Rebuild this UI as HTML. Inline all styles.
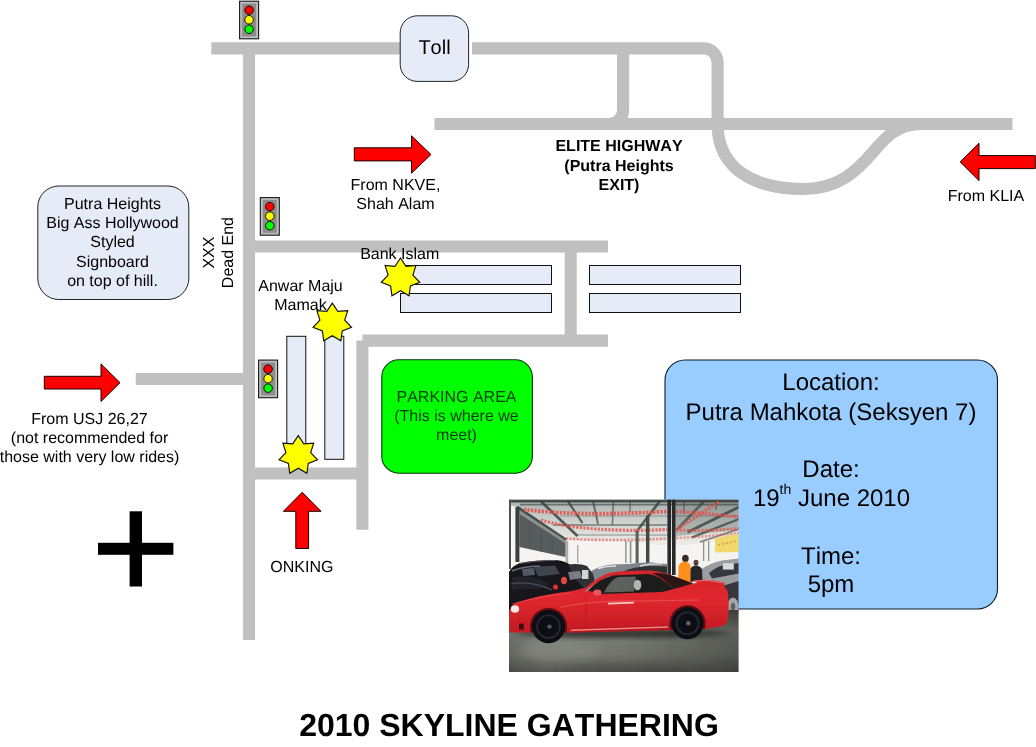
<!DOCTYPE html>
<html lang="en">
<head>
<meta charset="utf-8">
<title>2010 Skyline Gathering</title>
<style>
html,body{margin:0;padding:0;background:#fff;}
body{width:1036px;height:747px;overflow:hidden;}
svg{display:block;font-family:"Liberation Sans",Arial,Helvetica,sans-serif;text-rendering:geometricPrecision;font-kerning:none;}
text{opacity:0.999;}
</style>
</head>
<body>
<svg width="1036" height="747" viewBox="0 0 1036 747">
<rect width="1036" height="747" fill="#fff"/>
<g fill="none" stroke="#c0c0c0" stroke-width="12.1" stroke-linejoin="miter">
<path d="M211.3,48.4 H400"/>
<path d="M472,48.4 H703.6 A14,14 0 0 1 717.6,62.4 V124 C717.6,169.5 755,189 803,189 C838,189.5 857,171 874,151 C884.2,139 896,124 922,124"/>
<path d="M434.5,124 H1012.5"/>
<path d="M600,124 H609.1 A14,14 0 0 0 623.1,110 V48.4"/>
<path d="M249,54 V640"/>
<path d="M255,246.5 H608" stroke-width="11.8"/>
<path d="M570.7,246.4 V340.6"/>
<path d="M608,340.6 H362.4"/>
<path d="M362.4,340.6 V529.7"/>
<path d="M135.8,379 H249"/>
<path d="M249,473.5 H362"/>
</g>
<g>
<rect x="239.6" y="1.2" width="19.0" height="37.6" fill="#bcbcbc" stroke="#1a1a1a" stroke-width="1.1"/>
<rect x="242.1" y="3.5999999999999996" width="14.0" height="32.800000000000004" fill="#8c8c8c"/>
<circle cx="249.1" cy="10.20" r="4.25" fill="#ff0000" stroke="#1a0a00" stroke-width="1"/>
<circle cx="249.1" cy="19.75" r="4.25" fill="#ffff00" stroke="#1a1a00" stroke-width="1"/>
<circle cx="249.1" cy="29.30" r="4.25" fill="#00ff00" stroke="#001a00" stroke-width="1"/>
</g>
<g>
<rect x="260.3" y="197.6" width="19.0" height="37.6" fill="#bcbcbc" stroke="#1a1a1a" stroke-width="1.1"/>
<rect x="262.8" y="200.0" width="14.0" height="32.800000000000004" fill="#8c8c8c"/>
<circle cx="269.8" cy="206.60" r="4.25" fill="#ff0000" stroke="#1a0a00" stroke-width="1"/>
<circle cx="269.8" cy="216.15" r="4.25" fill="#ffff00" stroke="#1a1a00" stroke-width="1"/>
<circle cx="269.8" cy="225.70" r="4.25" fill="#00ff00" stroke="#001a00" stroke-width="1"/>
</g>
<g>
<rect x="258.6" y="360.1" width="19.0" height="37.6" fill="#bcbcbc" stroke="#1a1a1a" stroke-width="1.1"/>
<rect x="261.1" y="362.5" width="14.0" height="32.800000000000004" fill="#8c8c8c"/>
<circle cx="268.1" cy="369.10" r="4.25" fill="#ff0000" stroke="#1a0a00" stroke-width="1"/>
<circle cx="268.1" cy="378.65" r="4.25" fill="#ffff00" stroke="#1a1a00" stroke-width="1"/>
<circle cx="268.1" cy="388.20" r="4.25" fill="#00ff00" stroke="#001a00" stroke-width="1"/>
</g>
<rect x="400.2" y="15.8" width="68.4" height="65.6" rx="17" ry="17" fill="#e6ecf7" stroke="#222" stroke-width="1"/>
<text x="434.5" y="54" font-size="20" text-anchor="middle" font-weight="normal" fill="#000" >Toll</text>
<rect x="37.8" y="186" width="151" height="113.5" rx="21" ry="21" fill="#e6ecf7" stroke="#222" stroke-width="1"/>
<text x="112.5" y="209" font-size="16" text-anchor="middle" font-weight="normal" fill="#000" >Putra Heights</text>
<text x="112.5" y="228.2" font-size="16" text-anchor="middle" font-weight="normal" fill="#000" >Big Ass Hollywood</text>
<text x="112.5" y="247.4" font-size="16" text-anchor="middle" font-weight="normal" fill="#000" >Styled</text>
<text x="112.5" y="266.6" font-size="16" text-anchor="middle" font-weight="normal" fill="#000" >Signboard</text>
<text x="112.5" y="285.8" font-size="16" text-anchor="middle" font-weight="normal" fill="#000" >on top of hill.</text>
<g transform="translate(214.1,252.6) rotate(-90)"><text x="0" y="0" font-size="16" text-anchor="middle">XXX</text><text x="0" y="19.4" font-size="16" text-anchor="middle">Dead End</text></g>
<rect x="400.5" y="265.5" width="151" height="19" fill="#e6ecf7" stroke="#111" stroke-width="1"/>
<rect x="400.5" y="293.5" width="151" height="19" fill="#e6ecf7" stroke="#111" stroke-width="1"/>
<rect x="589.5" y="265.5" width="151" height="19" fill="#e6ecf7" stroke="#111" stroke-width="1"/>
<rect x="589.5" y="293.5" width="151" height="19" fill="#e6ecf7" stroke="#111" stroke-width="1"/>
<rect x="286.8" y="336.3" width="19" height="123" fill="#e6ecf7" stroke="#111" stroke-width="1"/>
<rect x="324.8" y="336.3" width="19" height="123" fill="#e6ecf7" stroke="#111" stroke-width="1"/>
<polygon points="354.3,147.8 411.5,147.8 411.5,135.8 431,154.5 411.5,173.2 411.5,160.9 354.3,160.9" fill="#ff0000" stroke="#1a0000" stroke-width="1"/>
<polygon points="44.3,376.3 101,376.3 101,363.9 120,382.7 101,401.5 101,389 44.3,389" fill="#ff0000" stroke="#1a0000" stroke-width="1"/>
<polygon points="1035.3,155.6 979,155.6 979,143.2 960.2,161.9 979,180.6 979,168.6 1035.3,168.6" fill="#ff0000" stroke="#1a0000" stroke-width="1"/>
<polygon points="302.2,492.3 321,511.3 308.6,511.3 308.6,548.5 295.8,548.5 295.8,511.3 283.4,511.3" fill="#ff0000" stroke="#1a0000" stroke-width="1"/>
<text x="395.5" y="189.5" font-size="16" text-anchor="middle" font-weight="normal" fill="#000" >From NKVE,</text>
<text x="395.5" y="208.7" font-size="16" text-anchor="middle" font-weight="normal" fill="#000" >Shah Alam</text>
<text x="986" y="200.9" font-size="16" text-anchor="middle" font-weight="normal" fill="#000" >From KLIA</text>
<text x="399.7" y="258.9" font-size="16" text-anchor="middle" font-weight="normal" fill="#000" >Bank Islam</text>
<text x="300.5" y="290.8" font-size="16" text-anchor="middle" font-weight="normal" fill="#000" >Anwar Maju</text>
<text x="300.5" y="310" font-size="16" text-anchor="middle" font-weight="normal" fill="#000" >Mamak</text>
<text x="89.5" y="423.5" font-size="16" text-anchor="middle" font-weight="normal" fill="#000" >From USJ 26,27</text>
<text x="89.5" y="442.8" font-size="16" text-anchor="middle" font-weight="normal" fill="#000" >(not recommended for</text>
<text x="89.5" y="462" font-size="16" text-anchor="middle" font-weight="normal" fill="#000" >those with very low rides)</text>
<text x="301.9" y="571.7" font-size="16" text-anchor="middle" font-weight="normal" fill="#000" >ONKING</text>
<text x="619" y="151.3" font-size="16" text-anchor="middle" font-weight="bold" fill="#000" >ELITE HIGHWAY</text>
<text x="619" y="170.6" font-size="16" text-anchor="middle" font-weight="bold" fill="#000" >(Putra Heights</text>
<text x="619" y="189.8" font-size="16" text-anchor="middle" font-weight="bold" fill="#000" >EXIT)</text>
<polygon points="400.50,258.04 406.01,266.36 415.90,265.52 412.89,275.05 419.71,282.32 410.43,285.89 409.05,295.79 400.50,290.71 391.95,295.79 390.57,285.89 381.29,282.32 388.11,275.05 385.10,265.52 394.99,266.36" fill="#ffff00" stroke="#111" stroke-width="1.15"/>
<polygon points="332.30,303.09 337.81,311.41 347.70,310.57 344.69,320.10 351.51,327.37 342.23,330.94 340.85,340.84 332.30,335.76 323.75,340.84 322.37,330.94 313.09,327.37 319.91,320.10 316.90,310.57 326.79,311.41" fill="#ffff00" stroke="#111" stroke-width="1.15"/>
<polygon points="298.30,435.59 303.81,443.91 313.70,443.07 310.69,452.60 317.51,459.87 308.23,463.44 306.85,473.34 298.30,468.26 289.75,473.34 288.37,463.44 279.09,459.87 285.91,452.60 282.90,443.07 292.79,443.91" fill="#ffff00" stroke="#111" stroke-width="1.15"/>
<rect x="381.8" y="359.8" width="150.6" height="113.4" rx="17" ry="17" fill="#00ff00" stroke="#043a04" stroke-width="1.1"/>
<text x="456.5" y="401.5" font-size="16" text-anchor="middle" font-weight="normal" fill="#053a05" >PARKING AREA</text>
<text x="456.5" y="421" font-size="16" text-anchor="middle" font-weight="normal" fill="#053a05" >(This is where we</text>
<text x="456.5" y="440.3" font-size="16" text-anchor="middle" font-weight="normal" fill="#053a05" >meet)</text>
<rect x="665" y="360" width="332.5" height="249" rx="20" ry="20" fill="#99ccff" stroke="#0c1c2c" stroke-width="1.1"/>
<text x="831" y="390.2" font-size="24" text-anchor="middle" font-weight="normal" fill="#000" >Location:</text>
<text x="831" y="419.5" font-size="24" text-anchor="middle" font-weight="normal" fill="#000" >Putra Mahkota (Seksyen 7)</text>
<text x="831" y="476.9" font-size="24" text-anchor="middle" font-weight="normal" fill="#000" >Date:</text>
<text x="831" y="563.8" font-size="24" text-anchor="middle" font-weight="normal" fill="#000" >Time:</text>
<text x="831" y="592.4" font-size="24" text-anchor="middle" font-weight="normal" fill="#000" >5pm</text>
<text x="831.5" y="505.7" font-size="24" text-anchor="middle">19<tspan font-size="14" dy="-11.4">th</tspan><tspan dy="11.4"> June 2010</tspan></text>
<rect x="98" y="542.8" width="75.4" height="12" fill="#000"/>
<rect x="129.6" y="511.3" width="12.4" height="75.2" fill="#000"/>
<defs><clipPath id="pc"><rect x="509.0" y="499.6" width="229.60000000000002" height="172.5"/></clipPath>
<filter id="b1" x="-5%" y="-5%" width="110%" height="110%"><feGaussianBlur stdDeviation="0.75"/></filter>
<filter id="b2" x="-30%" y="-30%" width="160%" height="160%"><feGaussianBlur stdDeviation="2.4"/></filter>
<filter id="b3" x="-30%" y="-30%" width="160%" height="160%"><feGaussianBlur stdDeviation="5"/></filter>
<linearGradient id="flr" x1="0" y1="0" x2="0" y2="1"><stop offset="0" stop-color="#55564f"/><stop offset="0.3" stop-color="#82857d"/><stop offset="0.7" stop-color="#787a73"/><stop offset="1" stop-color="#555553"/></linearGradient>
<linearGradient id="flx" x1="0" y1="0" x2="1" y2="0"><stop offset="0" stop-color="#000" stop-opacity="0.16"/><stop offset="0.15" stop-color="#000" stop-opacity="0"/><stop offset="0.5" stop-color="#000" stop-opacity="0.06"/><stop offset="1" stop-color="#000" stop-opacity="0.3"/></linearGradient>
<linearGradient id="car" x1="0" y1="0" x2="0" y2="1"><stop offset="0" stop-color="#d5252b"/><stop offset="0.45" stop-color="#e0282f"/><stop offset="1" stop-color="#c21a22"/></linearGradient>
<linearGradient id="roofg" x1="0" y1="0" x2="0" y2="1"><stop offset="0" stop-color="#a9b0ad"/><stop offset="0.5" stop-color="#cfd3cf"/><stop offset="1" stop-color="#f0eeea"/></linearGradient>
<clipPath id="cb"><path d="M509.3,632.4 L509.3,612 Q510,606 516,603 Q540,594.5 572,591 L586,587.4 Q600,575 612,572.3 Q630,570 650,570.5 Q664,571.5 678,578 L694,583.5 L700,581.5 Q715,582 724,586 L727.6,591 Q729,600 728.6,612 L727.4,621.5 L724,625.5 L706,629 L575,632.6 L530,632.6 Z"/></clipPath>
</defs>
<g clip-path="url(#pc)">
<rect x="509.0" y="499.6" width="229.60000000000002" height="172.5" fill="#f6f4f0"/>
<g filter="url(#b1)">
<polygon points="509,499 739,499 739,536 712,541 690,545 668,546 640,543 610,541 580,540 566,541 517,507 509,505" fill="url(#roofg)"/>
<polygon points="676,499 739,499 739,530 676,536" fill="#5d6663" opacity="0.35"/>
<g stroke="#36413d" fill="none" stroke-linecap="butt">
<path d="M509,501 H739" stroke-width="3" opacity="0.9"/>
<path d="M520,504.6 H739" stroke-width="1.6" opacity="0.6"/>
<path d="M541,501.5 L577.5,536" stroke-width="2.6" opacity="0.85"/>
<path d="M567.7,501 L582.5,523" stroke-width="2.2" opacity="0.8"/>
<path d="M593,501 L598,524" stroke-width="1.8" opacity="0.7"/>
<path d="M613.4,501 L612.4,525" stroke-width="1.6" opacity="0.6"/>
<path d="M517,507 L566,540" stroke-width="3" opacity="0.9"/>
<path d="M660,501 L637,531" stroke-width="2.8" opacity="0.8"/>
<path d="M704.3,501 L676.6,530" stroke-width="2.6" opacity="0.7"/>
<path d="M739,507 L687.5,532.3" stroke-width="2.8" opacity="0.8"/>
<path d="M739,519 L692,537.4" stroke-width="2.4" opacity="0.75"/>
<path d="M739,529 L700,542" stroke-width="1.8" opacity="0.6"/>
<path d="M553,525 H667" stroke-width="1.5" opacity="0.6"/>
<path d="M577,535 H668" stroke-width="1.2" opacity="0.5"/>
<path d="M560,516 H739" stroke-width="1.2" opacity="0.4"/>
<path d="M630,501 V512 M684,501 V514 M716,501 V510" stroke-width="1.4" opacity="0.6"/>
</g>
<g stroke="#e2544d" fill="none" stroke-dasharray="2.3 1.3">
<path d="M524,509.5 C560,514 600,515 667,511.5" stroke-width="3.8" opacity="0.9"/>
<path d="M676,511.5 C700,513 720,515 739,517" stroke-width="3.4" opacity="0.85"/>
<path d="M541,520 C570,529 620,532 667,529.5" stroke-width="3.2" opacity="0.8"/>
<path d="M676,530 C700,531 720,530 739,528.5" stroke-width="3" opacity="0.7"/>
<path d="M566,538.5 C600,541 640,540 667,538.5" stroke-width="2.6" opacity="0.6"/>
<path d="M676,538 C700,537 720,535 739,533" stroke-width="2.4" opacity="0.5"/>
<path d="M677.8,528.7 L720,501" stroke-width="3.2" opacity="0.85"/>
</g>
<polygon points="715,538 739,534 739,552 715,552.5" fill="#f0d55e" opacity="0.9"/>
<path d="M718,545 L736,541" stroke="#e0803a" stroke-width="2" opacity="0.6" stroke-dasharray="2 2"/>
<polygon points="519.3,510 565.6,540.5 565.6,557 519.3,547" fill="#565d5c"/>
<g stroke="#4a5150" stroke-width="0.8" opacity="0.8"><path d="M530,517 V549 M541,524 V552 M552,531 V554"/></g>
<polygon points="519.3,510 565.6,540.5 565.6,543.5 519.3,514" fill="#8b9190"/>
<rect x="509" y="499" width="2" height="70" fill="#4b5352"/>
<rect x="515.4" y="507" width="4" height="55" fill="#39413f"/>
<rect x="565.6" y="541" width="2.6" height="22" fill="#a9aeac"/>
<rect x="625.2" y="541" width="1.4" height="22" fill="#8a8f8d"/>
<rect x="629.8" y="541" width="1.6" height="22" fill="#8a8f8d"/>
<rect x="635.6" y="531" width="3" height="32" fill="#59605e"/>
<rect x="646" y="515.5" width="3.4" height="55" fill="#414847"/>
<rect x="577" y="545" width="1.4" height="18" fill="#a5aaa8"/>
<rect x="703" y="541" width="1.3" height="20" fill="#8d918f"/>
<rect x="708" y="541" width="1.3" height="20" fill="#8d918f"/>
<path d="M586,575 Q596,566 612,564.5 L628,564 Q640,562 652,562.5 L667,564 L667,580 L586,580 Z" fill="#7f858a"/>
<path d="M622,572 Q634,566.5 650,566 L667,566.5 L667,580 L622,580 Z" fill="#2e3136"/>
<path d="M640,566 Q650,563.5 662,564" stroke="#d9dcdf" stroke-width="1.4" fill="none"/>
<path d="M598,568.5 Q606,566 616,566" stroke="#e2e4e6" stroke-width="1.6" fill="none"/>
<rect x="667.4" y="499" width="3.6" height="76" fill="#272c2b"/>
<rect x="672" y="499" width="3.6" height="76" fill="#272c2b"/>
<path d="M700,570 Q710,563 722,560.5 L739,558.6 L739,600 L700,596 Z" fill="#9a9d9f"/>
<path d="M709,573 Q716,567 724,565 L739,563 L739,573.5 L712,578.5 Z" fill="#34383d"/>
<rect x="722.8" y="563.2" width="11" height="6.4" fill="#d4d8d8"/>
<path d="M702,592 L739,581 L739,622 L722,622 L704,604 Z" fill="#35353a"/>
<ellipse cx="733" cy="606.5" rx="5.6" ry="9" fill="#a4a6aa"/>
<ellipse cx="733" cy="606.5" rx="2.2" ry="3.8" fill="#5c5e61"/>
<ellipse cx="685.4" cy="558.4" rx="3.3" ry="3.6" fill="#352a26"/>
<path d="M678.6,566 Q680,562 685,561.6 Q689.5,562 690.6,566 L691,583 L678,583 Z" fill="#ff8f1c"/>
<ellipse cx="696" cy="562.8" rx="2.5" ry="3" fill="#5a4038"/>
<path d="M690.5,569 Q692,566 696,565.6 Q700.5,566 702,569.5 L702.5,580 L690.5,582 Z" fill="#27272a"/>
<path d="M509,572 Q512,566 520,563 Q535,560 556,560 Q566,561 572,566 L584,576 L592,588 L590,600 L509,612 Z" fill="#15151b"/>
<path d="M568,564.5 Q580,563 587,566 L593,574 L596,586 L588,592 L576,580 Z" fill="#2d3036"/>
<path d="M534,567 L555,565.5 L560,574 L538,576.5 Z" fill="#3f454e"/>
<path d="M512,577 Q530,574 548,583 L548,588 L512,590 Z" fill="#22232a"/>
<path d="M520,563.5 Q535,560.5 556,560.5" stroke="#5a5f6a" stroke-width="1" fill="none"/>
<path d="M512,571 Q522,566.5 540,566" stroke="#7d838c" stroke-width="1.4" fill="none" opacity="0.8"/>
<path d="M522,569 L534,568 L535,575 L523,576 Z" fill="#59606a" opacity="0.9"/>
<path d="M511,584 Q530,580 552,590" stroke="#4a4e58" stroke-width="1.2" fill="none"/>
<path d="M568,572 L580,571 L582,578 L570,580 Z" fill="#8e939a" opacity="0.8"/>
<ellipse cx="564" cy="580.5" rx="3" ry="3.8" fill="#e54a40"/>
<ellipse cx="555.5" cy="587" rx="2.4" ry="2.6" fill="#df352e"/>
<rect x="582" y="570" width="6.4" height="9" fill="#cfd2d6"/>
<rect x="509" y="610" width="230" height="63" fill="url(#flr)"/>
<rect x="509" y="610" width="230" height="63" fill="url(#flx)"/>
<ellipse cx="560" cy="650" rx="40" ry="10" fill="#8a8d84" opacity="0.5" filter="url(#b3)"/>
<ellipse cx="620" cy="670" rx="60" ry="5" fill="#3a3a3a" opacity="0.35" filter="url(#b3)"/>
<ellipse cx="622" cy="633.5" rx="106" ry="4.2" fill="#242424" opacity="0.8" filter="url(#b2)"/>
<path d="M509.3,632.4 L509.3,612 Q510,606 516,603 Q540,594.5 572,591 L586,587.4 Q600,575 612,572.3 Q630,570 650,570.5 Q664,571.5 678,578 L694,583.5 L700,581.5 Q715,582 724,586 L727.6,591 Q729,600 728.6,612 L727.4,621.5 L724,625.5 L706,629 L575,632.6 L530,632.6 Z" fill="url(#car)"/>
<path d="M693,580.5 Q708,578.2 724,582.5 L725,586 L700,584 Z" fill="#d6232b"/>
<path d="M694,581 Q708,579 723,583" stroke="#f08a8a" stroke-width="0.9" fill="none" opacity="0.8"/>
<path d="M571,628.5 L706,624 L706,629 L572,632.6 Z" fill="#b4161e" opacity="0.7"/>
<path d="M571,630.2 L668,627" stroke="#f79a96" stroke-width="1.5" opacity="0.85" fill="none"/>
<path d="M560,607.5 Q590,600.5 640,601 L700,600" stroke="#f26a6a" stroke-width="1.2" opacity="0.55" fill="none"/>
<path d="M608,603.6 L634,602.6" stroke="#f9d2cc" stroke-width="1.7" opacity="0.95" fill="none"/>
<path d="M512,604 Q540,596 572,593" stroke="#ef5a5a" stroke-width="1.2" opacity="0.6" fill="none"/>
<path d="M586,594 V628" stroke="#b3171e" stroke-width="0.8" opacity="0.7" fill="none"/>
<path d="M600,594 L588,590.5 Q600,578 613,575.5 L648,574 Q660,575 674,589 L662,592 Z" fill="#1b1d1e"/>
<path d="M604,592.5 Q610,580 618,577 L636,576.5 L634,591.5 Z" fill="#5d605b"/>
<path d="M588,590.5 Q600,578 613,575.5 L607,577 Q596,582 584,592 Z" fill="#9aa09c"/>
<ellipse cx="637.5" cy="585" rx="3.8" ry="5.2" fill="#b4b5ad"/>
<path d="M674,589 L693,583.5 L676,577 Q664,572.5 652,573 Q664,578 674,589 Z" fill="#2a1416"/>
<ellipse cx="597.3" cy="592.4" rx="4.2" ry="3" fill="#ea555e"/>
<ellipse cx="515" cy="609" rx="4.2" ry="3.8" fill="#f4e8e2"/>
<rect x="519" y="623.6" width="4.8" height="6" fill="#3a0c0e"/>
<g clip-path="url(#cb)"><circle cx="548.5" cy="626.6" r="18.6" fill="#5e0c12"/><circle cx="687.5" cy="623.3" r="18" fill="#5e0c12"/></g>
<circle cx="548.5" cy="626.6" r="16.6" fill="#101012"/>
<circle cx="687.5" cy="623.3" r="16" fill="#101012"/>
<circle cx="548.5" cy="626.6" r="11.4" fill="none" stroke="#2a2a33" stroke-width="1.6"/>
<circle cx="687.5" cy="623.3" r="11" fill="none" stroke="#2a2a33" stroke-width="1.6"/>
<circle cx="549.5" cy="626.6" r="2.2" fill="#55555c"/>
<circle cx="688.3" cy="623.3" r="2.2" fill="#66666c"/>
</g>
</g>
<text x="509" y="736" font-size="32" text-anchor="middle" font-weight="bold" fill="#000" >2010 SKYLINE GATHERING</text>
</svg>
</body>
</html>
